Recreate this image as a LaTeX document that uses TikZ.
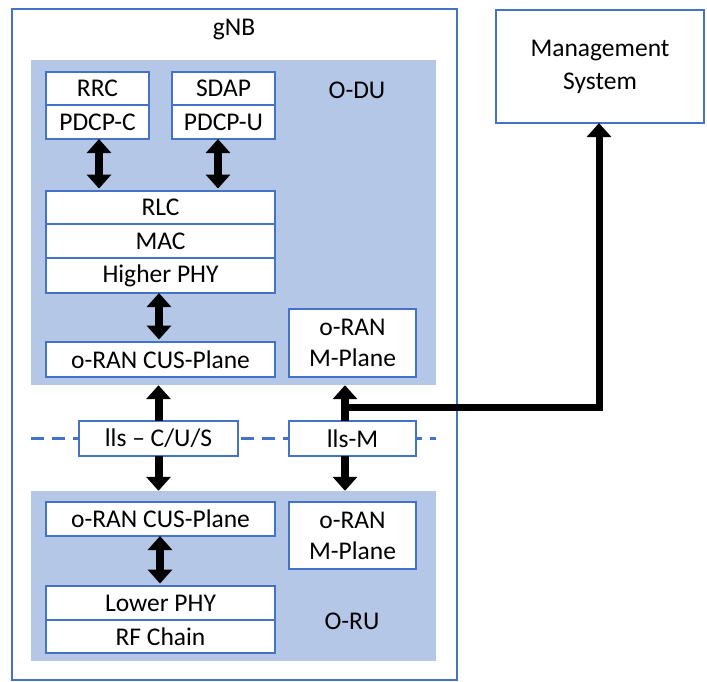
\documentclass[tikz,border=0pt]{standalone}
\usepackage{fontspec}
\setmainfont{Carlito}
\usetikzlibrary{arrows.meta,calc}
\definecolor{bl}{RGB}{68,114,196}
\definecolor{lb}{RGB}{180,199,231}
\begin{document}
\begin{tikzpicture}[x=1pt,y=-1pt,
  font=\fontsize{25.5}{31}\selectfont,
  blk/.style={draw=bl,fill=white,line width=2.5pt,inner sep=0pt,align=center},
  area/.style={fill=lb,draw=none,inner sep=0pt},
  big/.style={draw=bl,line width=2.5pt,inner sep=0pt},
  darr/.style={line width=8pt,{Triangle[width=24pt,length=14pt]}-{Triangle[width=24pt,length=14pt]}},
  uarr/.style={line width=8pt,-{Triangle[width=24pt,length=14pt]}},
  sep/.style={draw=bl,line width=2.5pt,dash pattern=on 13pt off 8pt}]
\useasboundingbox (0,0) rectangle (707,682);
% outer boxes
\node[big,minimum width=445pt,minimum height=671pt] (gnb) at (234.5,344.5) {};
\node[big,minimum width=208pt,minimum height=113pt,align=center,font=\fontsize{25.5}{33}\selectfont] (mgmt) at (600,66.5) {Management\\System};
\node at (234,30) (gnblbl) {gNB};
% fills
\node[area,minimum width=405pt,minimum height=325pt] (odu) at (233.5,222.5) {};
\node[area,minimum width=405pt,minimum height=170pt] (oru) at (233.5,576) {};
\node (odulbl) at (357,90) {O-DU};
\node (orulbl) at (352,621) {O-RU};
% dashed separator
\coordinate (sl) at (31,438.5);
\coordinate (sr) at (436,438.5);
\draw[sep] (sl) -- (sr);
% O-DU blocks
\node[blk,minimum width=103pt,minimum height=33pt] (rrc) at (97.5,88.5) {RRC};
\node[blk,minimum width=103pt,minimum height=34pt] (pdcpc) at (97.5,122) {PDCP-C};
\node[blk,minimum width=103pt,minimum height=33pt] (sdap) at (223.5,88.5) {SDAP};
\node[blk,minimum width=103pt,minimum height=34pt] (pdcpu) at (223.5,122) {PDCP-U};
\node[blk,minimum width=229pt,minimum height=33pt] (rlc) at (160.5,207.5) {RLC};
\node[blk,minimum width=229pt,minimum height=34pt] (mac) at (160.5,241) {MAC};
\node[blk,minimum width=229pt,minimum height=35pt] (hphy) at (160.5,275.5) {Higher PHY};
\node[blk,minimum width=229pt,minimum height=35pt] (cusdu) at (160.5,359.5) {o-RAN CUS-Plane};
\node[blk,minimum width=127pt,minimum height=68pt] (mpdu) at (352.5,343) {o-RAN\\M-Plane};
% interfaces
\node[blk,minimum width=159pt,minimum height=35pt] (iis) at (158.5,438.5) {lls – C/U/S};
\node[blk,minimum width=127pt,minimum height=35pt] (iism) at (352.5,438.5) {lls-M};
% O-RU blocks
\node[blk,minimum width=229pt,minimum height=34pt] (cusru) at (160.5,519) {o-RAN CUS-Plane};
\node[blk,minimum width=127pt,minimum height=67pt] (mpru) at (352.5,535.5) {o-RAN\\M-Plane};
\node[blk,minimum width=229pt,minimum height=34pt] (lphy) at (160.5,603) {Lower PHY};
\node[blk,minimum width=229pt,minimum height=33pt] (rf) at (160.5,636.5) {RF Chain};
% arrows
\draw[darr] ([xshift=1.5pt,yshift=1.2pt]pdcpc.south) -- ([xshift=1.5pt,yshift=1.2pt]pdcpc.south |- rlc.north);
\draw[darr] ([xshift=-5.5pt,yshift=1.2pt]pdcpu.south) -- ([xshift=-5.5pt,yshift=1.2pt]pdcpu.south |- rlc.north);
\draw[darr] ([xshift=-1.5pt,yshift=1.2pt]hphy.south) -- ([xshift=-1.5pt,yshift=1.2pt]hphy.south |- cusdu.north);
\draw[uarr] ([yshift=-1.2pt]iis.north) -- (iis.north |- odu.south);
\draw[uarr] ([yshift=1.2pt]iis.south) -- (iis.south |- oru.north);
\draw[darr] ([xshift=-0.5pt,yshift=1.2pt]cusru.south) -- ([xshift=-0.5pt,yshift=1.2pt]cusru.south |- lphy.north);
\draw[uarr] ([xshift=-7.5pt,yshift=-1.2pt]iism.north) -- ([xshift=-7.5pt]iism.north |- odu.south);
\draw[uarr] ([xshift=-7.5pt,yshift=1.2pt]iism.south) -- ([xshift=-7.5pt]iism.south |- oru.north);
\coordinate (mj) at (341,407);
\draw[uarr,line width=7pt] (mj) -| ([xshift=-1pt,yshift=1.2pt]mgmt.south);
\end{tikzpicture}
\end{document}
